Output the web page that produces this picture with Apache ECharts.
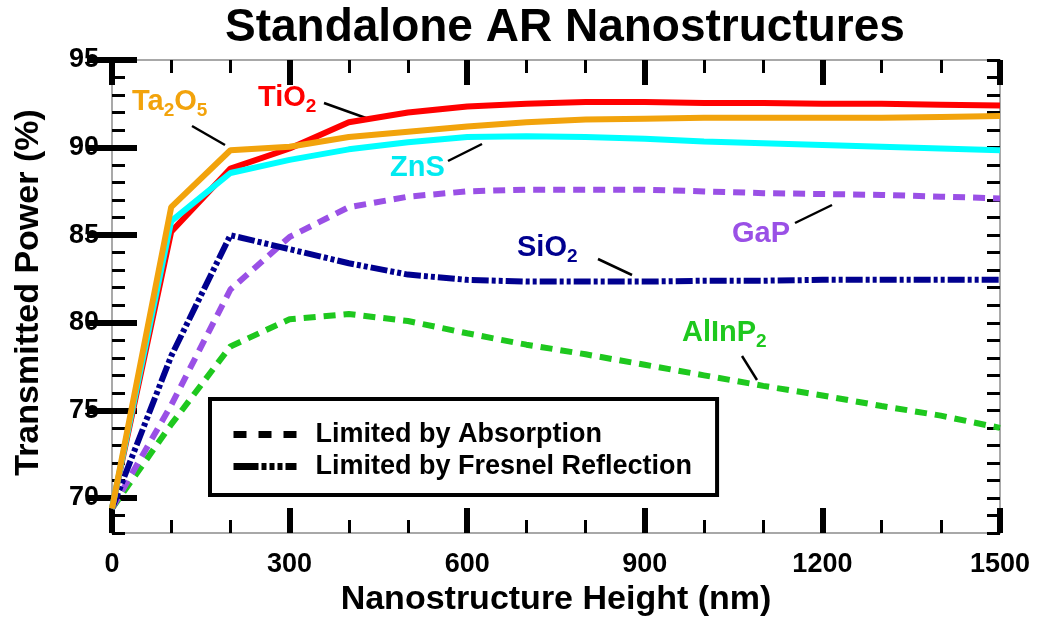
<!DOCTYPE html>
<html>
<head>
<meta charset="utf-8">
<title>Standalone AR Nanostructures</title>
<script src="https://cdn.jsdelivr.net/npm/echarts@6/dist/echarts.min.js"></script>
<style>
html, body { margin: 0; padding: 0; background: #fff; }
#main { width: 1037px; height: 623px; }
</style>
</head>
<body>
<div id="main"></div>
<script>
// nanostructure height (nm)
var heights = [0, 100, 200, 300, 400, 500, 600, 700, 800, 900, 1000, 1100, 1200, 1300, 1400, 1500];

// transmitted power (%)
var tio2   = [69.4, 85.2, 88.8, 89.95, 91.45, 92.0, 92.35, 92.5, 92.6, 92.6, 92.55, 92.55, 92.5, 92.5, 92.45, 92.4];
var ta2o5  = [69.4, 86.6, 89.85, 90.05, 90.6, 90.9, 91.2, 91.45, 91.6, 91.65, 91.7, 91.7, 91.7, 91.7, 91.75, 91.8];
var zns    = [69.4, 85.8, 88.55, 89.3, 89.9, 90.3, 90.6, 90.65, 90.6, 90.5, 90.35, 90.25, 90.15, 90.05, 89.95, 89.85];
var gap    = [69.4, 75.3, 81.9, 84.9, 86.6, 87.2, 87.5, 87.6, 87.6, 87.6, 87.5, 87.4, 87.35, 87.3, 87.2, 87.1];
var sio2   = [69.4, 78.1, 85.0, 84.2, 83.4, 82.75, 82.45, 82.35, 82.35, 82.35, 82.4, 82.4, 82.45, 82.45, 82.45, 82.45];
var alinp2 = [69.4, 74.2, 78.65, 80.2, 80.5, 80.1, 79.4, 78.75, 78.2, 77.6, 77.0, 76.4, 75.85, 75.25, 74.7, 74.0];

var yMajor = [70, 75, 80, 85, 90, 95];
var legendNames = ['Limited by Absorption', 'Limited by Fresnel Reflection'];

var font = 'Liberation Sans, Arial, sans-serif';

function pairs(ys) {
    return heights.map(function (h, i) { return [h, ys[i]]; });
}

var frameLine = { show: true, onZero: false, lineStyle: { color: '#8c8c8c', width: 1.5 } };
var bigTick = { show: true, inside: true, length: 25, lineStyle: { color: '#000', width: 6 } };
var smallTick = { show: true, inside: true, length: 13, lineStyle: { color: '#000', width: 3 } };

function xAx(pos) {
    return {
        type: 'value', position: pos, min: 0, max: 1500, interval: 300,
        axisLine: frameLine,
        axisTick: bigTick,
        minorTick: { show: true, splitNumber: 3, length: 13, lineStyle: { color: '#000', width: 3 } },
        splitLine: { show: false },
        minorSplitLine: { show: false },
        axisLabel: pos === 'bottom' ? {
            fontSize: 27, fontWeight: 'bold', color: '#000', fontFamily: font, margin: 18,
            formatter: function (v) { return String(v); }
        } : { show: false }
    };
}

function yAx(pos, major) {
    var ax = {
        type: 'value', position: pos, min: 68, max: 95,
        axisLine: major ? { show: false } : frameLine,
        splitLine: { show: false },
        axisLabel: { show: false }
    };
    if (major) {
        ax.axisTick = { show: true, inside: true, length: 25, customValues: yMajor, lineStyle: { color: '#000', width: 6 } };
    } else {
        ax.interval = 1;
        ax.axisTick = smallTick;
    }
    return ax;
}

var xBottom = xAx('bottom');
xBottom.name = 'Nanostructure Height (nm)';
xBottom.nameLocation = 'middle';
xBottom.nameGap = 47;
xBottom.nameTextStyle = { fontSize: 34, fontWeight: 'bold', color: '#000', fontFamily: font };

var yLeft = yAx('left', false);
yLeft.axisLabel = {
    show: true, fontSize: 27, fontWeight: 'bold', color: '#000', fontFamily: font, margin: 13,
    formatter: function (v) { return v % 5 === 0 ? String(v) : ''; }
};
yLeft.name = 'Transmitted Power (%)';
yLeft.nameLocation = 'middle';
yLeft.nameGap = 66;
yLeft.nameTextStyle = { fontSize: 34, fontWeight: 'bold', color: '#000', fontFamily: font, padding: [0, 0, 0, 8] };

function curve(name, ys, color, dash) {
    return {
        name: name, type: 'line', data: pairs(ys),
        xAxisIndex: 0, yAxisIndex: 0,
        symbol: 'none', silent: true,
        lineStyle: { color: color, width: 6, type: dash || 'solid' }
    };
}

// text annotations: {m|...} normal, {s|...} subscript
function tag(text, color, x, y) {
    return {
        type: 'text', x: x, y: y, silent: true,
        style: {
            text: text, fill: color, align: 'left', verticalAlign: 'top',
            rich: {
                m: { fontSize: 29, fontWeight: 'bold', fontFamily: font, fill: color, lineHeight: 36 },
                s: { fontSize: 19, fontWeight: 'bold', fontFamily: font, fill: color, lineHeight: 19, verticalAlign: 'bottom' }
            }
        }
    };
}
function leader(x1, y1, x2, y2) {
    return { type: 'line', silent: true, shape: { x1: x1, y1: y1, x2: x2, y2: y2 }, style: { stroke: '#000', lineWidth: 2.5 } };
}

var myChart = echarts.init(document.getElementById('main'));
option = {
    backgroundColor: '#fff',
    animation: false,
    title: {
        text: 'Standalone AR Nanostructures',
        left: 220, top: 0,
        textStyle: { fontSize: 46, fontWeight: 'bold', color: '#000', fontFamily: font }
    },
    grid: { left: 112, right: 37, top: 60, bottom: 90, containLabel: false },
    legend: {
        orient: 'vertical', left: 210, top: 399,
        data: legendNames,
        selectedMode: false,
        itemWidth: 63, itemHeight: 14, itemGap: 5,
        padding: [22, 25, 15, 20],
        borderColor: '#000', borderWidth: 4,
        lineStyle: { width: 7 },
        itemStyle: { opacity: 0 },
        textStyle: { fontSize: 27, fontWeight: 'bold', color: '#000', fontFamily: font, padding: [0, 0, 0, 14] }
    },
    xAxis: [xBottom, xAx('top')],
    yAxis: [yLeft, yAx('left', true), yAx('right', false), yAx('right', true)],
    series: [
        curve('AlInP2', alinp2, '#1ec81e', [12, 8]),
        curve('GaP', gap, '#9a50e6', [12, 8]),
        curve('SiO2', sio2, '#00008f', [17, 3, 4, 3, 4, 3]),
        curve('TiO2', tio2, '#ff0000'),
        curve('ZnS', zns, '#00ffff'),
        curve('Ta2O5', ta2o5, '#f2a30c'),
        { name: legendNames[0], type: 'line', data: [], symbol: 'none', itemStyle: { color: '#000' }, lineStyle: { color: '#000', width: 7, type: [13, 12] } },
        { name: legendNames[1], type: 'line', data: [], symbol: 'none', itemStyle: { color: '#000' }, lineStyle: { color: '#000', width: 7, type: [25, 3, 5, 3, 5, 3, 5, 3] } }
    ],
    graphic: [
        tag('{m|TiO}{s|2}', '#ff0000', 258, 80),
        leader(324, 103, 366, 118),
        tag('{m|Ta}{s|2}{m|O}{s|5}', '#f2a30c', 132, 84),
        leader(192, 126, 225, 145),
        tag('{m|ZnS}', '#00eaf0', 390, 150),
        leader(448, 161, 482, 144),
        tag('{m|GaP}', '#9a50e6', 732, 216),
        leader(795, 223, 832, 205),
        tag('{m|SiO}{s|2}', '#00008f', 517, 230),
        leader(598, 259, 632, 275),
        tag('{m|AlInP}{s|2}', '#1ec81e', 682, 315),
        leader(742, 356, 757, 380)
    ]
};
myChart.setOption(option, true);
</script>
</body>
</html>
